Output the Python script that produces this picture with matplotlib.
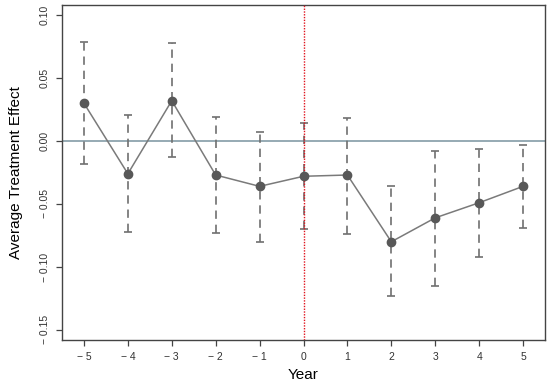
import matplotlib
matplotlib.use("Agg")
import matplotlib.pyplot as plt

plt.rcParams['font.family'] = ['Liberation Sans', 'DejaVu Sans']

# данные
years = [-5, -4, -3, -2, -1, 0, 1, 2, 3, 4, 5]
effect = [0.030, -0.026, 0.032, -0.027, -0.036, -0.028, -0.027, -0.080, -0.061, -0.049, -0.036]
ci_low = [-0.018, -0.072, -0.013, -0.073, -0.080, -0.070, -0.074, -0.123, -0.115, -0.092, -0.069]
ci_high = [0.079, 0.021, 0.078, 0.019, 0.007, 0.014, 0.018, -0.036, -0.008, -0.006, -0.003]
yticks = [-0.15, -0.10, -0.05, 0.00, 0.05, 0.10]


def fmt(v, digits=0):
    s = f"{abs(v):.{digits}f}"
    return ("\u2212 " + s) if v < 0 else s


fig = plt.figure(figsize=(5.5, 3.86), dpi=100)
ax = fig.add_axes([62 / 550, 1 - 340 / 386, 483 / 550, 335 / 386])

ax.axhline(0, color='#8ea4ae', lw=1.3, zorder=1)
ax.axvline(0, color='#e0141e', lw=1.0, ls=(0, (1, 1)), zorder=4)

# доверительные интервалы пунктиром
ax.vlines(years, ci_low, ci_high, colors='#707070', linestyles=(0, (5, 3.5)), lw=1.2, zorder=2)
ax.plot(years, ci_low, ls='none', marker='_', ms=6, mew=1.2, color='#707070', zorder=2)
ax.plot(years, ci_high, ls='none', marker='_', ms=6, mew=1.2, color='#707070', zorder=2)

ax.plot(years, effect, color='#7a7a7a', lw=1.1, zorder=3)
ax.plot(years, effect, ls='none', marker='o', ms=6, color='#585858', zorder=5)

ax.set_xlim(-5.5, 5.5)
ax.set_ylim(-0.158, 0.108)
ax.set_xticks(years)
ax.set_xticklabels([fmt(y) for y in years], fontsize=7.5, color='#333333')
ax.set_yticks(yticks)
ax.set_yticklabels([fmt(v, 2) for v in yticks], fontsize=7.5, color='#333333',
                   rotation=90, va='center')

for s in ax.spines.values():
    s.set_color('#444444')
    s.set_linewidth(1.0)
ax.tick_params(direction='out', length=4, width=0.9, color='#444444', pad=5)

ax.set_xlabel('Year', fontsize=11, labelpad=4)
ax.set_ylabel('Average Treatment Effect', fontsize=11, labelpad=12)

fig.savefig('out.png', dpi=100)
